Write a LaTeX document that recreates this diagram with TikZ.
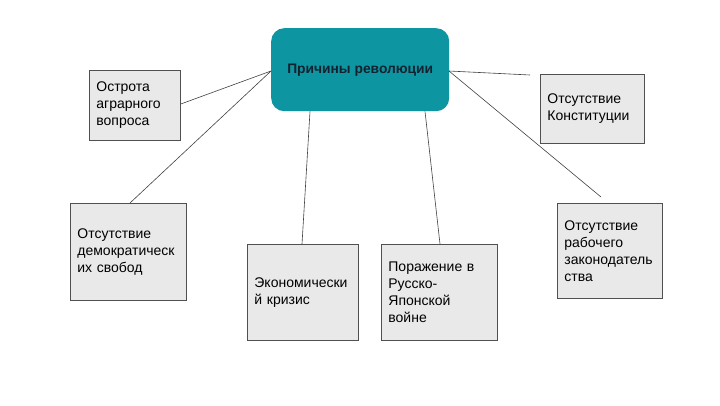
\documentclass[tikz,border=0pt]{standalone}
\usepackage{fontspec}
\setmainfont{Liberation Sans}
\definecolor{teal1}{HTML}{0E95A2}
\definecolor{boxfill}{HTML}{E9E9E9}
\definecolor{boxline}{HTML}{505050}
\definecolor{titletext}{HTML}{13222E}
\begin{document}
\begin{tikzpicture}[x=1pt,y=-1pt,
  cause/.style={draw=boxline, line width=0.8pt, fill=boxfill, anchor=north west,
    align=left, inner xsep=7pt, inner ysep=0pt, font=\fontsize{14}{17}\selectfont},
  link/.style={draw=black!75, line width=0.6pt}]
\useasboundingbox (0,0) rectangle (720,405);
\node[fill=teal1, rounded corners=13pt, anchor=north west, minimum width=178pt, minimum height=83pt,
  inner sep=0pt, font=\bfseries\fontsize{13.8}{16}\selectfont, text=titletext] (c) at (271,28) {Причины революции};
\node[cause, text width=77pt, minimum height=70pt] (a) at (89,70) {Острота\\аграрного\\вопроса};
\node[cause, text width=90pt, minimum height=69pt] (k) at (540,74) {Отсутствие\\Конституции};
\node[cause, text width=102pt, minimum height=97pt] (d) at (70,203) {Отсутствие\\демократическ\\их свобод};
\node[cause, text width=97pt, minimum height=96pt] (e) at (247,244) {Экономически\\й кризис};
\node[cause, text width=102pt, minimum height=96pt] (w) at (381,244) {Поражение в\\Русско-\\Японской\\войне};
\node[cause, text width=91pt, minimum height=95pt] (z) at (557,203) {Отсутствие\\рабочего\\законодатель\\ства};
\coordinate (cl) at (271,71);
\coordinate (cr) at (449,71);
\coordinate (kend) at (530,75);
\coordinate (zend) at (601,197);
\draw[link] (cl) -- (a.east |- 0,104);
\draw[link] (cl) -- (d.north -| 130,0);
\draw[link] (cr) -- (kend);
\draw[link] (cr) -- (zend);
\draw[link] (c.south -| 310,0) -- (e.north -| 302,0);
\draw[link] (c.south -| 425,0) -- (w.north -| 440,0);
\end{tikzpicture}
\end{document}
